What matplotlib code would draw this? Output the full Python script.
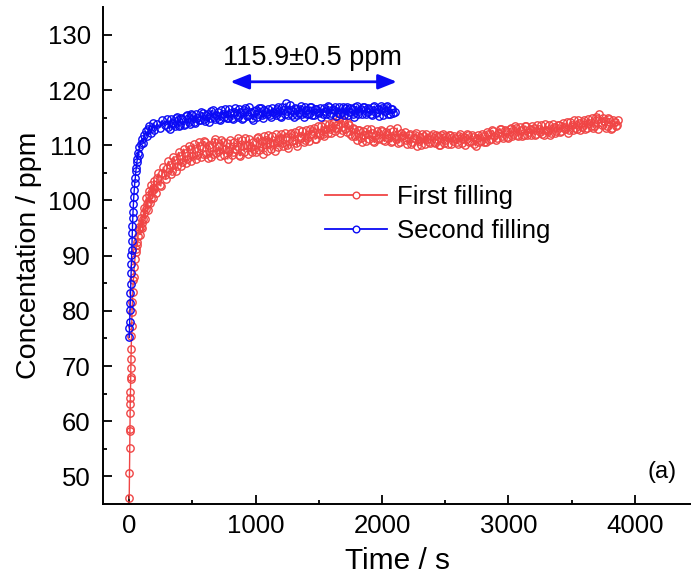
import matplotlib
matplotlib.use('Agg')
import matplotlib.pyplot as plt
from matplotlib.lines import Line2D
import numpy as np

plt.rcParams['font.family'] = ['Liberation Sans', 'DejaVu Sans']

# first filling - early part (s, ppm)
t1_early = [0, 2, 4, 5, 6, 7, 8, 9, 10, 11, 12, 13, 14, 16, 18, 20, 22, 25, 28, 32, 36, 40, 45, 50, 55, 60,
            70, 80, 90, 100, 110, 120, 130, 140, 150, 160, 170, 180, 190, 200, 220, 240, 260, 280, 300,
            320, 340, 360, 380, 400, 420, 440, 460, 480, 500, 520, 540, 560, 580]
c1_early = [46.0, 50.6, 55.1, 58.2, 58.6, 61.4, 63.1, 64.2, 65.3, 67.6, 68.0, 69.7, 71.2, 73.0, 75.4, 77.3,
            79.8, 81.6, 83.4, 85.5, 86.2, 88.0, 89.3, 90.6, 91.2, 92.4, 93.6, 94.8, 95.2, 95.9, 96.6, 97.8,
            98.4, 99.3, 99.8, 100.9, 100.5, 101.8, 102.3, 102.0, 104.1, 102.8, 104.9, 104.6, 105.9, 106.4,
            105.3, 107.3, 106.2, 108.1, 107.0, 108.6, 107.5, 109.3, 108.0, 109.4, 108.2, 109.9, 108.5]
t1_early_b = [65, 75, 85, 95, 105, 115, 125, 135, 145, 155, 165, 175, 185, 195, 210, 230, 250, 270, 290,
              310, 330, 350, 370, 390, 410, 430, 450, 470, 490, 510, 530, 550, 570, 590]
c1_early_b = [91.9, 95.2, 93.8, 96.9, 95.0, 98.6, 96.7, 100.4, 98.2, 101.7, 99.5, 102.8, 100.4, 103.6,
              101.4, 104.9, 102.6, 106.0, 103.8, 107.1, 104.8, 107.9, 105.4, 108.7, 106.2, 109.3, 106.8,
              109.8, 107.2, 110.2, 107.6, 110.5, 107.9, 110.7]
# first filling - readings at 600, 620, ... s
c1_a = [110.6, 107.7, 109.7, 108.5, 111.2, 108.9, 108.1, 110.5, 109.3, 107.5,
        110.9, 108.7, 109.3, 111.4, 108.1, 109.8, 111.3, 108.4, 109.6, 110.6,
        108.8, 111.5, 109.9, 108.5, 110.9, 111.9, 109.4, 110.3, 112.0, 109.7,
        112.1, 109.9, 111.5, 109.5, 112.3, 111.0, 110.4, 112.8, 111.4, 110.6,
        112.7, 110.8, 112.0, 113.2, 111.2, 112.3, 113.5, 111.6, 113.0, 113.9,
        112.2, 114.2, 113.1, 114.7, 112.7, 114.2, 112.4, 113.6, 111.7, 112.9,
        111.0, 112.7, 110.6, 111.8, 113.0, 111.1, 112.2, 110.5, 112.6, 111.4,
        112.5, 110.7, 112.0, 112.9, 110.8, 111.7, 113.1, 110.5, 111.6, 112.4,
        110.3, 112.0, 110.6, 111.8, 109.9, 111.5, 112.1, 110.2, 111.1, 110.4,
        112.1, 110.4, 111.6, 110.1, 112.0, 111.0, 110.2, 111.9, 110.7, 111.4,
        110.3, 112.1, 111.1, 110.1, 111.8, 110.7, 111.5, 109.9, 111.9, 110.8,
        111.7, 110.5, 112.0, 111.2, 112.6, 110.9, 112.2, 112.9, 111.3, 112.5,
        111.4, 113.1, 112.0, 113.2, 111.6, 112.7, 111.9, 113.4, 112.4, 111.8,
        113.2, 112.0, 112.9, 113.6, 111.9, 112.8, 113.7, 112.3, 113.3, 112.5,
        113.7, 112.5, 113.3, 114.2, 112.8, 113.6, 114.5, 112.9, 114.0, 113.3,
        114.5, 113.1, 114.0, 115.0, 113.5, 114.7, 115.6, 113.7, 114.4, 113.5,
        114.8, 113.2, 114.2, 113.6]
# first filling - readings at 610, 630, ... s
c1_b = [108.4, 110.1, 107.9, 110.5, 108.6, 109.9, 111.0, 108.2, 110.4, 109.0,
        108.3, 110.6, 109.9, 108.2, 110.9, 108.8, 110.1, 111.1, 108.7, 109.4,
        111.3, 109.2, 110.8, 111.6, 109.0, 110.4, 111.7, 108.9, 110.6, 111.4,
        110.4, 112.3, 110.1, 112.0, 110.7, 112.4, 109.8, 111.6, 112.5, 111.0,
        111.3, 113.0, 112.6, 111.1, 113.4, 111.8, 112.1, 113.8, 112.2, 112.9,
        114.0, 112.5, 113.9, 112.3, 114.5, 113.0, 114.1, 112.1, 113.2, 111.6,
        112.8, 111.3, 112.5, 110.7, 112.0, 112.9, 110.8, 111.9, 111.1, 112.7,
        110.9, 112.4, 111.3, 110.6, 112.5, 111.2, 110.4, 112.3, 111.9, 110.9,
        111.9, 110.2, 111.3, 112.2, 110.8, 110.0, 111.7, 112.0, 110.5, 111.6,
        110.5, 111.9, 110.1, 111.8, 110.4, 111.6, 111.9, 110.3, 111.7, 110.6,
        111.7, 110.4, 111.5, 112.0, 110.5, 111.9, 110.3, 111.4, 110.6, 112.0,
        110.6, 112.4, 111.0, 112.7, 111.6, 111.3, 113.0, 111.6, 112.8, 111.5,
        113.0, 111.6, 113.4, 111.9, 113.3, 111.7, 113.5, 111.9, 113.0, 113.4,
        111.9, 113.6, 112.4, 112.0, 113.9, 112.5, 111.8, 113.8, 112.2, 113.7,
        112.4, 114.1, 113.0, 112.2, 114.3, 112.7, 113.2, 114.6, 112.8, 114.2,
        112.9, 114.8, 113.4, 113.2, 115.2, 113.0, 114.3, 115.0, 113.1, 114.9,
        112.9, 114.5, 113.4, 114.6]

# second filling - early part
t2_early = [0, 2, 4, 6, 8, 10, 12, 14, 16, 18, 20, 22, 24, 26, 28, 30, 33, 36, 40, 44, 48, 52, 56, 60, 65,
            70, 75, 80, 90, 100, 110, 120, 130, 140, 150, 160, 170, 180, 190, 200, 220, 240, 260, 280]
c2_early = [75.2, 76.8, 78.0, 80.1, 81.5, 83.2, 84.8, 86.9, 88.4, 90.2, 91.0, 92.6, 94.1, 95.3, 96.8, 97.9,
            99.4, 100.6, 101.9, 103.2, 104.0, 105.3, 105.8, 106.9, 107.5, 108.6, 108.2, 109.7, 110.3,
            111.2, 110.4, 111.9, 112.5, 111.6, 112.9, 113.4, 112.2, 113.1, 114.0, 112.8, 113.9, 113.2,
            114.5, 113.6]
# second filling - readings at 300, 320, ... s
c2_a = [114.7, 112.9, 114.1, 113.5, 115.2, 113.7, 114.7, 113.8, 115.5, 113.8,
        115.4, 114.1, 115.0, 114.5, 115.9, 114.4, 115.7, 114.9, 116.4, 114.7,
        116.0, 114.5, 115.6, 116.5, 114.9, 115.9, 114.7, 116.7, 115.2, 116.0,
        115.0, 116.8, 115.4, 116.1, 114.6, 116.3, 115.7, 116.7, 114.9, 116.1,
        116.5, 115.1, 116.1, 115.5, 117.0, 115.2, 116.4, 117.6, 115.5, 116.3,
        115.2, 116.6, 115.8, 117.1, 115.1, 116.4, 115.7, 116.9, 115.4, 116.5,
        116.0, 115.1, 116.7, 115.6, 117.0, 115.8, 116.4, 115.3, 116.9, 116.1,
        115.5, 117.0, 116.0, 116.6, 115.2, 117.1, 116.2, 115.7, 116.9, 116.0,
        116.6, 115.5, 117.1, 116.1, 115.3, 116.7, 116.2, 117.2, 115.7, 116.5,
        116.0]
# second filling - readings at 310, 330, ... s
c2_b = [113.3, 114.8, 113.9, 115.0, 113.4, 114.9, 113.7, 115.3, 114.2, 115.6,
        114.2, 115.7, 114.6, 116.0, 114.8, 115.4, 114.3, 116.2, 115.1, 115.5,
        114.8, 116.3, 115.2, 115.0, 116.6, 114.9, 116.1, 115.4, 116.6, 114.8,
        116.4, 115.3, 116.9, 114.9, 116.2, 115.1, 116.7, 115.4, 116.3, 115.6,
        115.4, 116.8, 115.8, 116.6, 115.3, 116.9, 115.6, 116.2, 117.3, 115.4,
        116.8, 115.4, 116.6, 115.7, 117.0, 115.6, 116.9, 115.5, 116.6, 115.9,
        116.7, 115.6, 116.2, 117.1, 115.5, 116.5, 117.0, 115.9, 115.6, 117.0,
        116.7, 115.4, 116.8, 115.7, 116.9, 115.6, 116.5, 117.0, 115.6, 116.8,
        115.6, 116.9, 115.8, 116.6, 117.2, 115.5, 116.9, 115.6, 116.5, 115.9]

t1 = np.concatenate([t1_early, t1_early_b, 600 + 20 * np.arange(len(c1_a)), 610 + 20 * np.arange(len(c1_b))])
c1 = np.concatenate([c1_early, c1_early_b, c1_a, c1_b])
o = np.argsort(t1, kind='stable')
t1, c1 = t1[o], c1[o]
t2 = np.concatenate([t2_early, 300 + 20 * np.arange(len(c2_a)), 310 + 20 * np.arange(len(c2_b))])
c2 = np.concatenate([c2_early, c2_a, c2_b])
o = np.argsort(t2, kind='stable')
t2, c2 = t2[o], c2[o]

red = '#F04545'
blue = '#0A0AF5'

fig = plt.figure(figsize=(6.91, 5.74), dpi=100)
ax = fig.add_axes([0.1495, 0.1220, 0.8505, 0.8653])

ax.plot(t1, c1, color=red, lw=1.0, marker='o', ms=5.3, mfc='none', mec=red, mew=1.0)
ax.plot(t2, c2, color=blue, lw=1.0, marker='o', ms=5.3, mfc='none', mec=blue, mew=1.0)

ax.set_xlim(-205, 4445)
ax.set_ylim(45, 135)
ax.set_xticks([0, 1000, 2000, 3000, 4000])
ax.set_xticks([500, 1500, 2500, 3500], minor=True)
ax.set_yticks(np.arange(50, 131, 10))
ax.set_yticks(np.arange(55, 131, 10), minor=True)
ax.tick_params(which='both', direction='in', width=1.3, labelsize=18.5)
ax.tick_params(which='major', length=6.7)
ax.tick_params(which='minor', length=3)
ax.tick_params(axis='x', pad=7.5)
ax.tick_params(axis='y', pad=9)
for s in ['top', 'right']:
    ax.spines[s].set_visible(False)
for s in ['left', 'bottom']:
    ax.spines[s].set_linewidth(1.4)

ax.set_xlabel('Time / s', fontsize=21.5, labelpad=6)
ax.set_ylabel('Concentation / ppm', fontsize=20.5, labelpad=4)

# double arrow for the mean value
ax.annotate('', xy=(800, 121.5), xytext=(2118, 121.5),
            arrowprops=dict(arrowstyle='<|-|>, head_length=0.45, head_width=0.18',
                            color=blue, lw=2, mutation_scale=25, shrinkA=0, shrinkB=0))
ax.text(1453, 125.8, '115.9\u00b10.5 ppm', fontsize=19.5, ha='center', va='center')

ax.text(0.976, 0.064, '(a)', transform=ax.transAxes, fontsize=17, ha='right', va='center')

handles = [Line2D([], [], color=red, lw=1.3, marker='o', ms=4.8, mfc='white', mec=red, mew=1),
           Line2D([], [], color=blue, lw=1.3, marker='o', ms=4.8, mfc='white', mec=blue, mew=1)]
ax.legend(handles, ['First filling', 'Second filling'], loc='upper left',
          bbox_to_anchor=(0.377, 0.642), frameon=False, fontsize=18.5, handlelength=2.4,
          handletextpad=0.4, labelspacing=0.38, numpoints=1, borderpad=0, borderaxespad=0)

fig.savefig('out.png', dpi=100)
